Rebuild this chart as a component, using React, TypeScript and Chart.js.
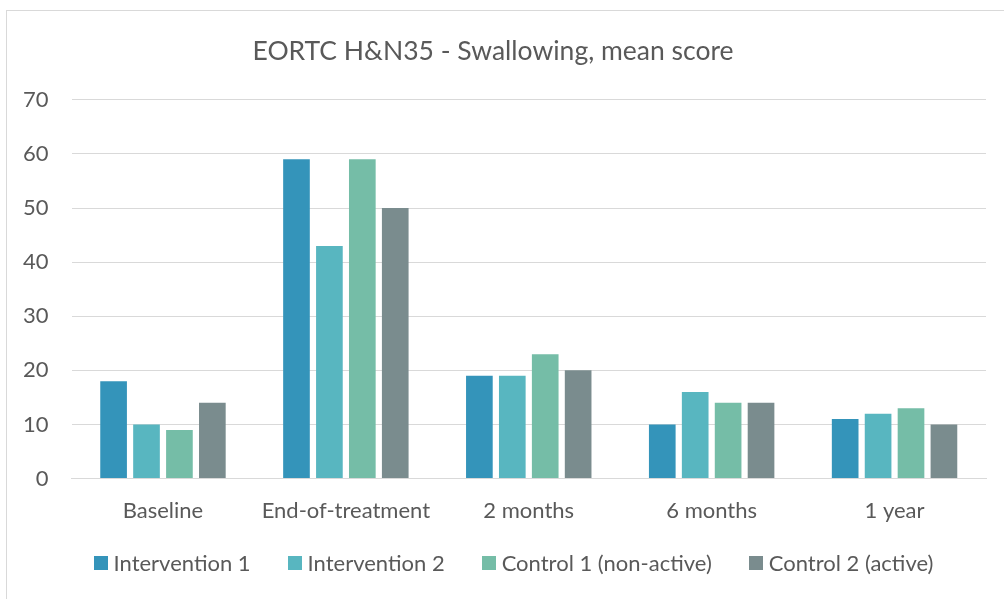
import React, { useEffect, useRef } from "react";
import { Chart, registerables } from "chart.js";

Chart.register(...registerables);

const categories = ["Baseline", "End-of-treatment", "2 months", "6 months", "1 year"];
const seriesNames = ["Intervention 1", "Intervention 2", "Control 1 (non-active)", "Control 2 (active)"];
const intervention1 = [18, 59, 19, 10, 11];
const intervention2 = [10, 43, 19, 16, 12];
const control1 = [9, 59, 23, 14, 13];
const control2 = [14, 50, 20, 14, 10];
const colors = ["#3494BA", "#58B6C0", "#75BDA7", "#7A8C8E"];
const titleText = "EORTC H&N35 - Swallowing, mean score";

const FONT = "Lato, 'Open Sans', sans-serif";
const TEXT = "#595959";
const LEGEND_FONT_SIZE = 22;

const framePlugin = {
  id: "frameBorder",
  beforeDraw(chart: any) {
    const ctx = chart.ctx;
    ctx.save();
    ctx.fillStyle = "#ffffff";
    ctx.fillRect(0, 0, chart.width, chart.height);
    ctx.strokeStyle = "#d9d9d9";
    ctx.lineWidth = 1;
    ctx.strokeRect(6.5, 10.5, chart.width + 20, chart.height + 20);
    ctx.restore();
  },
};

// Legend drawn by hand so that item spacing and vertical gap match the reference
const legendPlugin = {
  id: "customLegend",
  afterDraw(chart: any) {
    const ctx = chart.ctx;
    ctx.save();
    ctx.font = `${LEGEND_FONT_SIZE}px ${FONT}`;
    const box = 14;
    const boxGap = 6;
    const itemGap = 37;
    const items = chart.data.datasets.map((ds: any) => ({
      text: ds.label as string,
      color: ds.backgroundColor as string,
      w: box + boxGap + ctx.measureText(ds.label).width,
    }));
    const total = items.reduce((s: number, it: any) => s + it.w, 0) + itemGap * (items.length - 1);
    const cx = chart.width / 2 + 11.5;
    const cy = chart.chartArea.bottom + 84;
    let x = cx - total / 2;
    ctx.textBaseline = "middle";
    ctx.textAlign = "left";
    for (const it of items) {
      ctx.fillStyle = it.color;
      ctx.fillRect(Math.round(x), Math.round(cy - box / 2), box, box);
      ctx.fillStyle = TEXT;
      ctx.fillText(it.text, x + box + boxGap, cy + 1);
      x += it.w + itemGap;
    }
    ctx.restore();
  },
};

export default function App() {
  const ref = useRef<HTMLCanvasElement | null>(null);
  useEffect(() => {
    if (!ref.current) return;
    const all = [intervention1, intervention2, control1, control2];
    const chart = new Chart(ref.current, {
      type: "bar",
      data: {
        labels: categories,
        datasets: all.map((d, i) => ({
          label: seriesNames[i],
          data: d,
          backgroundColor: colors[i],
          borderWidth: 0,
          categoryPercentage: 0.72,
          barPercentage: 0.81,
        })),
      },
      options: {
        animation: false,
        responsive: false,
        maintainAspectRatio: false,
        layout: { padding: { left: 0, right: 18, top: 10, bottom: 56 } },
        plugins: {
          title: {
            display: true,
            text: titleText,
            color: TEXT,
            font: { family: FONT, size: 26.5, weight: "normal" },
            padding: { top: 26, bottom: 32 },
          },
          legend: { display: false },
          tooltip: { enabled: false },
        },
        scales: {
          x: {
            grid: { display: false, drawTicks: false },
            border: { display: true, color: "#d9d9d9", width: 1 },
            ticks: { color: TEXT, font: { family: FONT, size: 22 }, padding: 19 },
          },
          y: {
            min: 0,
            max: 70,
            grid: { color: "#d9d9d9", drawTicks: false },
            border: { display: false },
            ticks: { stepSize: 10, color: TEXT, font: { family: FONT, size: 22 }, padding: 23 },
          },
        },
      },
      plugins: [framePlugin, legendPlugin],
    });
    return () => chart.destroy();
  }, []);
  return (
    <div style={{ position: "absolute", left: 0, top: 0, width: 1004, height: 599 }}>
      <canvas ref={ref} width={1004} height={599} style={{ width: 1004, height: 599 }} />
    </div>
  );
}
